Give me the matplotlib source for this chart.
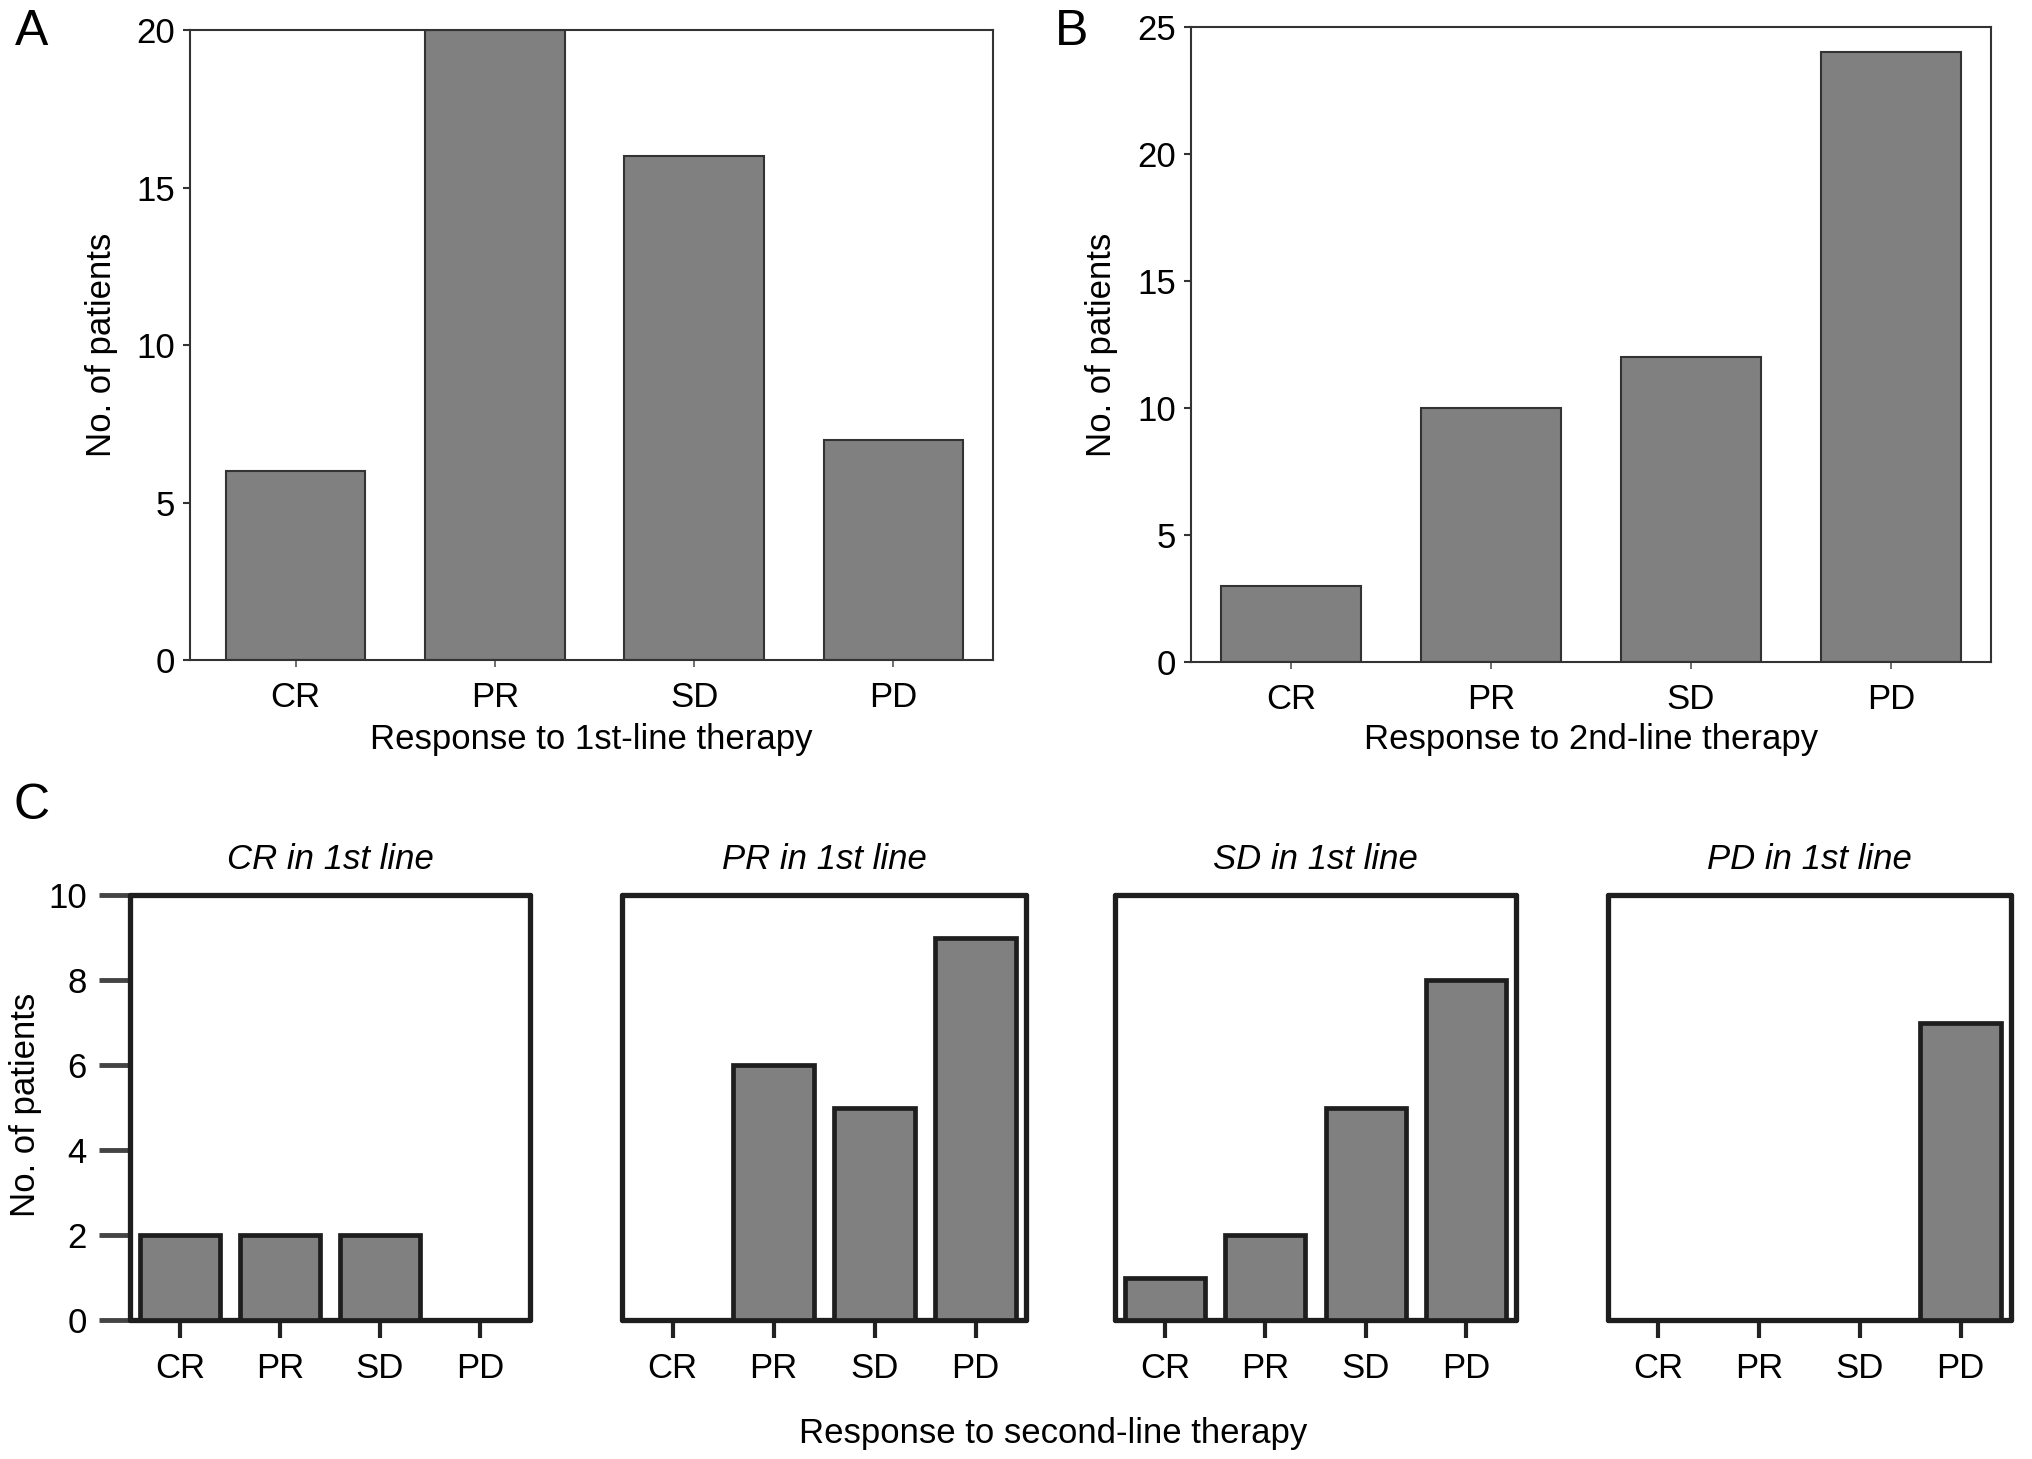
import matplotlib
matplotlib.use("Agg")
import matplotlib.pyplot as plt
import numpy as np

plt.rcParams['font.family'] = ['Liberation Sans', 'DejaVu Sans']

categories = ["CR", "PR", "SD", "PD"]
first_line = [6, 20, 16, 7]
second_line = [3, 10, 12, 24]
c_titles = ["CR in 1st line", "PR in 1st line", "SD in 1st line", "PD in 1st line"]
c_values = [
    [2, 2, 2, 0],
    [0, 6, 5, 9],
    [1, 2, 5, 8],
    [0, 0, 0, 7],
]

W, H = 2032, 1459
fig = plt.figure(figsize=(W / 100, H / 100), dpi=100)

def ax_px(x0, x1, y0, y1):
    return fig.add_axes([x0 / W, 1 - y1 / H, (x1 - x0) / W, (y1 - y0) / H])

FS = 25
BAR = "#808080"
x = np.arange(len(categories))

# ---- Panels A and B ----
def top_panel(ax, vals, ymax, yticks, xl):
    ax.bar(x, vals, width=0.7, color=BAR, edgecolor="#333333", linewidth=1.5)
    ax.set_xlim(xl)
    ax.set_ylim(0, ymax)
    ax.set_yticks(yticks)
    ax.set_xticks(x)
    ax.set_xticklabels(categories)
    for s in ax.spines.values():
        s.set_linewidth(1.5)
        s.set_color("#333333")
    ax.tick_params(axis="y", length=5, width=1.5, pad=6, labelsize=FS, color="#333333")
    ax.tick_params(axis="x", length=5, width=1.2, pad=10, labelsize=FS, color="#555555")

axA = ax_px(190, 993, 30, 660)
top_panel(axA, first_line, 20, [0, 5, 10, 15, 20], (-0.53, 3.5))
axB = ax_px(1191, 1991, 27, 662)
top_panel(axB, second_line, 25, [0, 5, 10, 15, 20, 25], (-0.5, 3.5))

def ftext(px, py, s, **kw):
    fig.text(px / W, 1 - py / H, s, **kw)

ftext(101, 345, "No. of patients", rotation=90, ha="center", va="center", fontsize=FS)
ftext(1102, 345, "No. of patients", rotation=90, ha="center", va="center", fontsize=FS)
ftext(591, 740, "Response to 1st-line therapy", ha="center", va="center", fontsize=FS)
ftext(1591, 740, "Response to 2nd-line therapy", ha="center", va="center", fontsize=FS)

ftext(32, 32, "A", ha="center", va="center", fontsize=36)
ftext(1072, 32, "B", ha="center", va="center", fontsize=36)
ftext(32, 806, "C", ha="center", va="center", fontsize=36)

# ---- Panel C ----
c_boxes = [(130, 530), (622, 1026), (1115, 1516), (1608, 2011)]
for i, ((x0, x1), title, vals) in enumerate(zip(c_boxes, c_titles, c_values)):
    ax = ax_px(x0, x1, 895, 1320)
    ax.bar(x, vals, width=0.8, color=BAR, edgecolor="#1e1e1e", linewidth=3.4, zorder=3)
    ax.set_xlim(-0.5, 3.5)
    ax.set_ylim(0, 10)
    ax.set_xticks(x)
    ax.set_xticklabels(categories)
    for s in ax.spines.values():
        s.set_linewidth(3.8)
        s.set_color("#1e1e1e")
        s.set_capstyle("round")
        s.set_joinstyle("round")
    ax.tick_params(axis="x", length=13, width=3, pad=10, labelsize=FS, color="#222222")
    if i == 0:
        ax.set_yticks([0, 2, 4, 6, 8, 10])
        ax.tick_params(axis="y", length=22, width=3.5, pad=9, labelsize=FS, color="#444444")
    else:
        ax.set_yticks([])
    ax.set_title(title, fontstyle="italic", fontsize=FS, pad=19)

ftext(26, 1105, "No. of patients", rotation=90, ha="center", va="center", fontsize=FS)
ftext(1053, 1433, "Response to second-line therapy", ha="center", va="center", fontsize=FS)

fig.savefig("out.png", dpi=100, facecolor="white")
